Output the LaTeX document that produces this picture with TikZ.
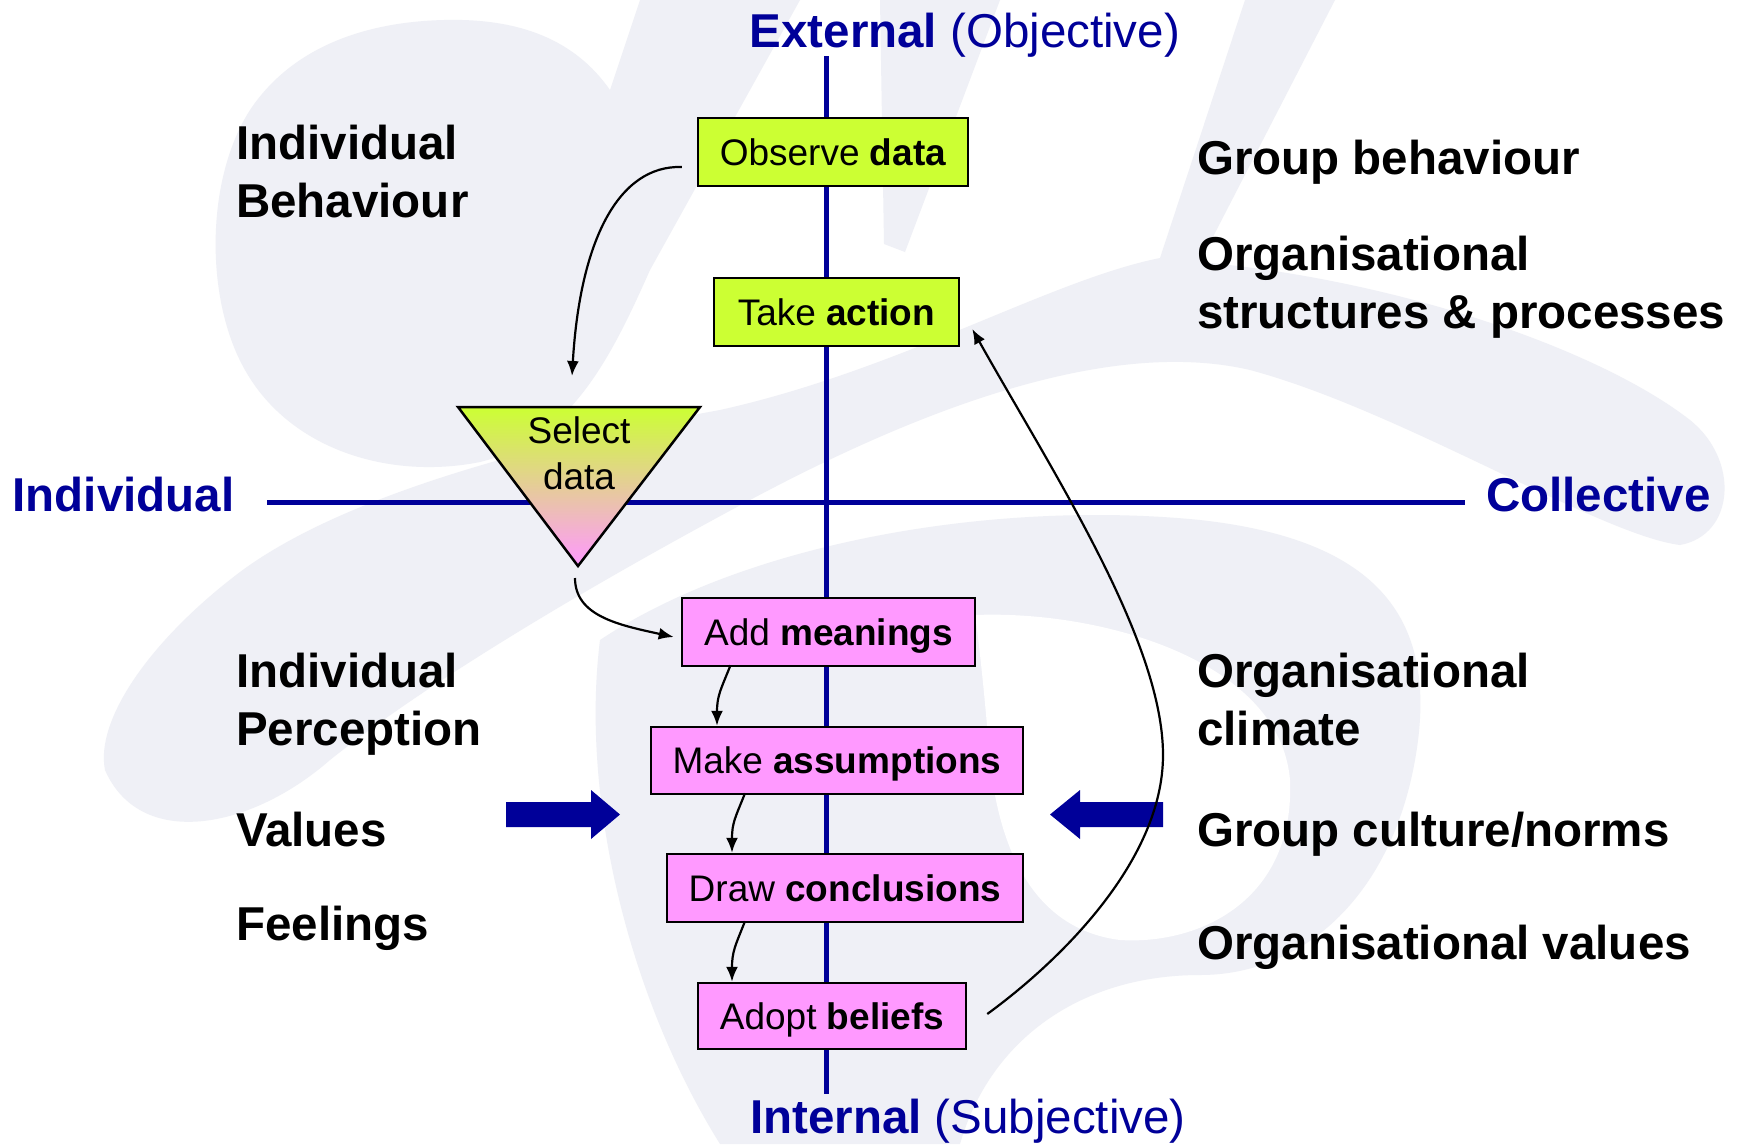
\documentclass[tikz,border=0pt]{standalone}
\usepackage{fontspec}
\setmainfont{Liberation Sans}
\usetikzlibrary{arrows.meta}
\definecolor{navy}{RGB}{0,0,153}
\definecolor{boxgreen}{RGB}{204,255,51}
\definecolor{boxpink}{RGB}{255,153,255}
\definecolor{wm}{RGB}{239,240,246}
\begin{document}
\begin{tikzpicture}[x=1pt,y=-1pt,
  stepbox/.style={draw=black, line width=2.5pt, inner sep=0pt, text height=26.5pt, text depth=0pt,
                  font=\fontsize{37}{44}\selectfont},
  gbox/.style={stepbox, fill=boxgreen},
  pbox/.style={stepbox, fill=boxpink},
  lbl/.style={anchor=base west, align=left, inner sep=0pt, font=\fontsize{47.5}{58}\selectfont\bfseries},
  axlbl/.style={anchor=base west, inner sep=0pt, text=navy, font=\fontsize{47.5}{58}\selectfont},
  axisline/.style={draw=navy, line width=5pt},
  flow/.style={draw=black, line width=2.2pt, -{Latex[length=15pt,width=12pt]}},
  bigarrow/.style={fill=navy},
]
\useasboundingbox (0,0) rectangle (1742,1144);
\fill[white] (0,0) rectangle (1742,1144);

% ---------- background watermark ----------
\fill[wm] (444,20) .. controls (520,18) and (575,40) .. (610,90)
  -- (640,0) -- (800,0) -- (650,270)
  .. controls (610,360) and (570,440) .. (480,462)
  .. controls (390,480) and (290,450) .. (245,370)
  .. controls (205,300) and (205,180) .. (250,110)
  .. controls (290,50) and (360,22) .. (444,20) -- cycle;
\fill[wm] (880,0) -- (1000,0) -- (905,252) -- (884,244) -- cycle;
\fill[wm] (105,770) .. controls (95,720) and (150,640) .. (240,572)
  .. controls (330,505) and (500,450) .. (720,410)
  .. controls (900,370) and (1050,280) .. (1160,258)
  -- (1245,0) -- (1335,0) -- (1200,262)
  .. controls (1400,280) and (1600,350) .. (1690,420)
  .. controls (1740,460) and (1735,535) .. (1680,545)
  .. controls (1600,535) and (1400,410) .. (1250,370)
  .. controls (1100,335) and (900,420) .. (750,500)
  .. controls (600,580) and (430,680) .. (330,760)
  .. controls (250,830) and (140,850) .. (105,770) -- cycle;
\fill[wm] (600,640) .. controls (750,540) and (1000,500) .. (1200,520)
  .. controls (1380,540) and (1440,620) .. (1415,760)
  .. controls (1390,900) and (1300,975) .. (1200,975)
  .. controls (1080,975) and (990,1040) .. (960,1144)
  -- (720,1144) .. controls (630,1000) and (580,800) .. (600,640) -- cycle;
\fill[white] (975,615) .. controls (1100,610) and (1280,660) .. (1290,780)
  .. controls (1295,900) and (1200,945) .. (1120,940)
  .. controls (1040,930) and (1000,860) .. (990,760)
  .. controls (985,700) and (980,650) .. (975,615) -- cycle;

% ---------- axes ----------
\coordinate (vtop) at (826,56);
\coordinate (vbot) at (826,1094);
\coordinate (hleft) at (267,502);
\coordinate (hright) at (1465,502);
\draw[axisline] (vtop) -- (vbot);
\draw[axisline] (hleft) -- (hright);

% ---------- select data triangle ----------
\coordinate (tl) at (458,407);
\coordinate (tr) at (700,407);
\coordinate (tb) at (578,566);
\shade[top color=boxgreen, bottom color=boxpink, draw=black, line width=2.5pt, line join=miter]
  (tl) -- (tr) -- (tb) -- cycle;
\node[inner sep=0pt, anchor=base, font=\fontsize{37}{44}\selectfont] (sel1) at (579,443) {Select};
\node[inner sep=0pt, anchor=base, font=\fontsize{37}{44}\selectfont] (sel2) at (579,489) {data};
\coordinate (selin) at (572,376);
\coordinate (selout) at (575,578);

% ---------- boxes ----------
\node[gbox, minimum width=270pt, minimum height=68pt] (obs) at (833,152) {Observe \textbf{data}};
\node[gbox, minimum width=245pt, minimum height=68pt] (act) at (836.5,312) {Take \textbf{action}};
\node[pbox, minimum width=293pt, minimum height=68pt] (mean) at (828.5,632) {Add \textbf{meanings}};
\node[pbox, minimum width=372pt, minimum height=67pt] (assu) at (837,760.5) {Make \textbf{assumptions}};
\node[pbox, minimum width=356pt, minimum height=68pt] (conc) at (845,888) {Draw \textbf{conclusions}};
\node[pbox, minimum width=268pt, minimum height=66pt] (beli) at (832,1016) {Adopt \textbf{beliefs}};

% ---------- blue block arrows ----------
\fill[bigarrow] (506,802) -- (591,802) -- (591,790) -- (620,814.5) -- (591,839) -- (591,827) -- (506,827) -- cycle;
\fill[bigarrow] (1163,802) -- (1080,802) -- (1080,790) -- (1050,814.5) -- (1080,839) -- (1080,827) -- (1163,827) -- cycle;

% ---------- flow connectors ----------
\draw[flow] ([shift={(-15,15)}]obs.west) .. controls +(-63,-2) and +(8,-136) .. (selin);
\draw[flow] (selout) .. controls +(0,38) and +(-55,-12) .. ([shift={(-7,5)}]mean.west);
\draw[flow] ([shift={(-98,-2)}]mean.south) .. controls +(-10,25) and +(0,-30) .. ([xshift=-120]assu.north);
\draw[flow] ([shift={(-92,-2)}]assu.south) .. controls +(-10,25) and +(0,-30) .. ([xshift=-113]conc.north);
\draw[flow] ([shift={(-100,-2)}]conc.south) .. controls +(-10,25) and +(0,-30) .. ([xshift=-100]beli.north);
\coordinate (bend) at (1163,755);
\draw[flow] ([shift={(20,-2)}]beli.east) .. controls +(74,-54) and +(0,105) .. (bend)
  .. controls +(0,-115) and +(79,141) .. ([shift={(12,17)}]act.east);

% ---------- axis labels ----------
\node[axlbl] (ext) at (749.5,47) {\textbf{External} (Objective)};
\node[axlbl] (int) at (750,1133) {\textbf{Internal} (Subjective)};
\node[axlbl, font=\fontsize{47.5}{58}\selectfont\bfseries] (indiv) at (12.5,511) {Individual};
\node[axlbl, font=\fontsize{47.5}{58}\selectfont\bfseries] (coll) at (1486,511) {Collective};

% ---------- side labels (base = last line) ----------
\node[lbl] (ib) at (236,217) {Individual\\Behaviour};
\node[lbl] (ip) at (236,745) {Individual\\Perception};
\node[lbl] (val) at (236,846) {Values};
\node[lbl] (feel) at (236,940) {Feelings};
\node[lbl] (gb) at (1197,174) {Group behaviour};
\node[lbl] (osp) at (1197,328) {Organisational\\structures \& processes};
\node[lbl] (oc) at (1197,745) {Organisational\\climate};
\node[lbl] (gcn) at (1197,846) {Group culture/norms};
\node[lbl] (ov) at (1197,959) {Organisational values};
\end{tikzpicture}
\end{document}
